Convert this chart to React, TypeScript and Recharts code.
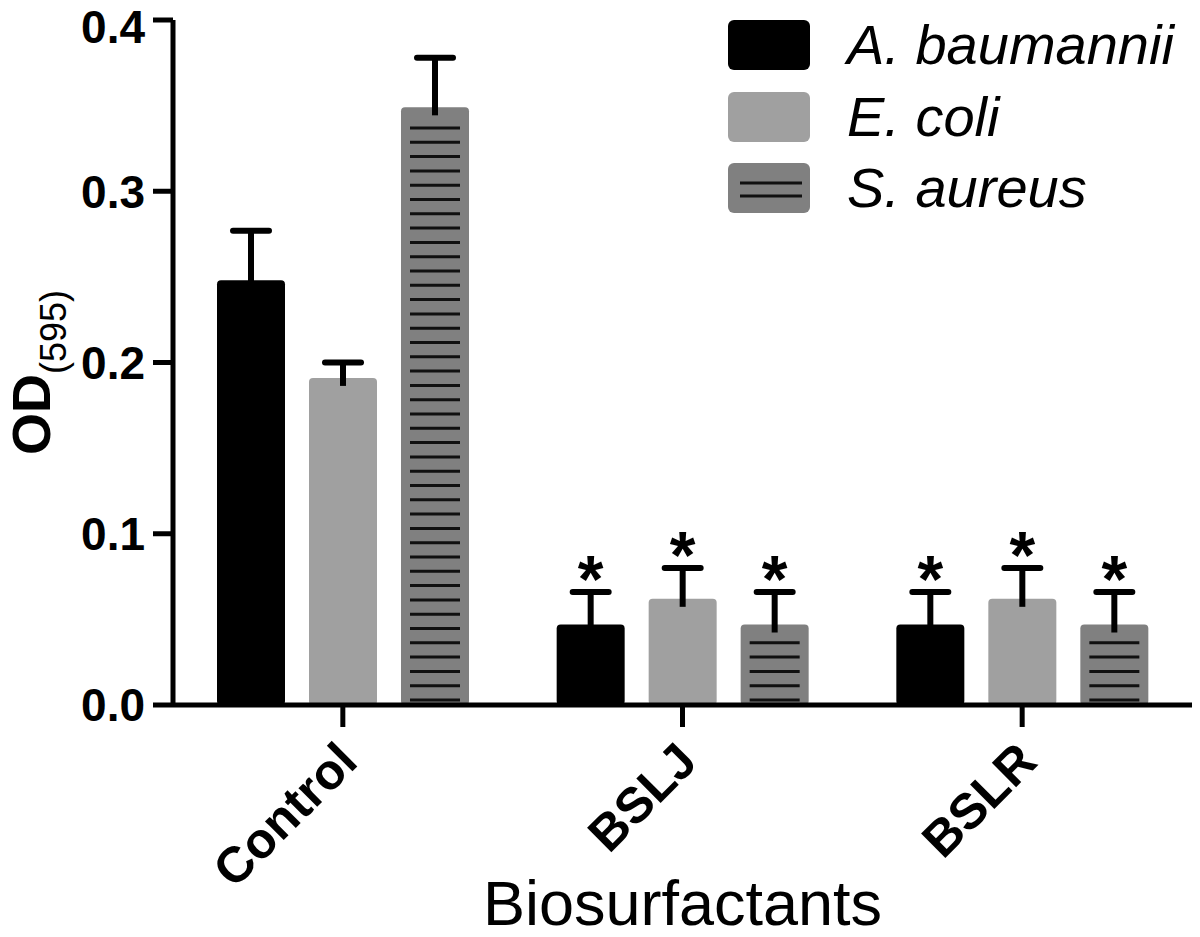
import { BarChart, Bar, XAxis, YAxis, Legend } from 'recharts'

const categories = ['Control', 'BSLJ', 'BSLR']
const baumannii = [0.248, 0.047, 0.047]
const baumanniiErr = [0.029, 0.019, 0.019]
const coli = [0.191, 0.062, 0.062]
const coliErr = [0.009, 0.018, 0.018]
const aureus = [0.349, 0.047, 0.047]
const aureusErr = [0.029, 0.019, 0.019]
const significant = [false, true, true]
const yTicks = [0, 0.1, 0.2, 0.3, 0.4]

const FONT = '"Liberation Sans", Arial, Helvetica, sans-serif'

const data = categories.map((name, i) => ({
    name,
    ab: baumannii[i],
    abErr: baumanniiErr[i],
    ec: coli[i],
    ecErr: coliErr[i],
    sa: aureus[i],
    saErr: aureusErr[i],
    sig: significant[i],
}))

// bar + one-sided error bar + asterisk, hatch lines for S. aureus
const makeShape = (key: string, hatched: boolean) => (props: any) => {
    const { x, y, width, height, fill, payload } = props
    const val = payload[key]
    const err = payload[key + 'Err']
    const k = val ? height / val : 0
    const top = y - err * k
    const cx = x + width / 2
    const lines = []
    if (hatched) {
        for (let ly = y + height - 5; ly > y + 8; ly -= 14.3) {
            lines.push(
                <line key={ly} x1={x + 9} x2={x + width - 9} y1={ly} y2={ly} stroke="#111" strokeWidth={3} />
            )
        }
    }
    return (
        <g>
            <rect x={x} y={y} width={width} height={height} rx={4} fill={fill} />
            {lines}
            <line x1={cx} x2={cx} y1={top} y2={y + 8} stroke="#000" strokeWidth={6} />
            <line x1={cx - 18} x2={cx + 18} y1={top} y2={top} stroke="#000" strokeWidth={6} strokeLinecap="round" />
            {payload.sig && (
                <text x={cx} y={top + 10} textAnchor="middle" fontSize={66} fontWeight="bold" fontFamily={FONT} fill="#000">
                    *
                </text>
            )}
        </g>
    )
}

const XTick = (props: any) => {
    const { x, payload } = props
    const px = x + 17
    const py = 764
    return (
        <text
            x={px}
            y={py}
            transform={`rotate(-45, ${px}, ${py})`}
            textAnchor="end"
            fontSize={50}
            fontWeight="bold"
            fontFamily={FONT}
            fill="#000"
        >
            {payload.value}
        </text>
    )
}

const YLabel = (props: any) => {
    const vb = props.viewBox || { x: 0, y: 20, width: 173, height: 685 }
    const cx = 50
    const cy = vb.y + vb.height / 2 + 10
    return (
        <text
            x={cx}
            y={cy}
            transform={`rotate(-90, ${cx}, ${cy})`}
            textAnchor="middle"
            fontFamily={FONT}
            fill="#000"
        >
            <tspan fontSize={54} fontWeight="bold">OD</tspan>
            <tspan fontSize={36} dy={16}>(595)</tspan>
        </text>
    )
}

const renderLegend = (props: any) => {
    const { payload } = props
    const rowY = [20, 92, 163]
    return (
        <svg width={480} height={230}>
            {payload.map((item: any, i: number) => (
                <g key={item.value}>
                    <rect x={8} y={rowY[i]} width={82} height={50} rx={6} fill={item.color} />
                    {item.dataKey === 'sa' && (
                        <g>
                            <line x1={20} x2={82} y1={rowY[i] + 20} y2={rowY[i] + 20} stroke="#111" strokeWidth={3} />
                            <line x1={20} x2={82} y1={rowY[i] + 33} y2={rowY[i] + 33} stroke="#111" strokeWidth={3} />
                        </g>
                    )}
                    <text x={127} y={rowY[i] + 44} fontSize={56} fontStyle="italic" fontFamily={FONT} fill="#000">
                        {item.value}
                    </text>
                </g>
            ))}
        </svg>
    )
}

export default function App() {
    return (
        <div style={{ position: 'absolute', left: 0, top: 0, background: '#fff', fontFamily: FONT }}>
            <BarChart
                width={1200}
                height={937}
                data={data}
                margin={{ top: 20, right: 8, left: 0, bottom: 0 }}
                barSize={68}
                barGap={24}
            >
                <XAxis
                    dataKey="name"
                    height={232}
                    tick={<XTick />}
                    tickSize={22}
                    axisLine={{ stroke: '#000', strokeWidth: 5 }}
                    tickLine={{ stroke: '#000', strokeWidth: 5 }}
                    label={{
                        value: 'Biosurfactants',
                        position: 'insideBottom',
                        offset: 12,
                        style: { fontSize: 63, fill: '#000', fontFamily: FONT },
                    }}
                />
                <YAxis
                    width={173}
                    domain={[0, 0.4]}
                    ticks={yTicks}
                    tickFormatter={(v: number) => v.toFixed(1)}
                    tickSize={20}
                    tickMargin={8}
                    tick={{ fontSize: 46, fontWeight: 'bold', fill: '#000', fontFamily: FONT }}
                    axisLine={{ stroke: '#000', strokeWidth: 5 }}
                    tickLine={{ stroke: '#000', strokeWidth: 5 }}
                    label={<YLabel />}
                />
                <Legend
                    layout="vertical"
                    align="center"
                    verticalAlign="middle"
                    content={renderLegend}
                    wrapperStyle={{ position: 'absolute', left: 720, top: 0, width: 480, height: 230 }}
                />
                <Bar dataKey="ab" name="A. baumannii" fill="#000000" shape={makeShape('ab', false)} isAnimationActive={false} />
                <Bar dataKey="ec" name="E. coli" fill="#a0a0a0" shape={makeShape('ec', false)} isAnimationActive={false} />
                <Bar dataKey="sa" name="S. aureus" fill="#808080" shape={makeShape('sa', true)} isAnimationActive={false} />
            </BarChart>
        </div>
    )
}
